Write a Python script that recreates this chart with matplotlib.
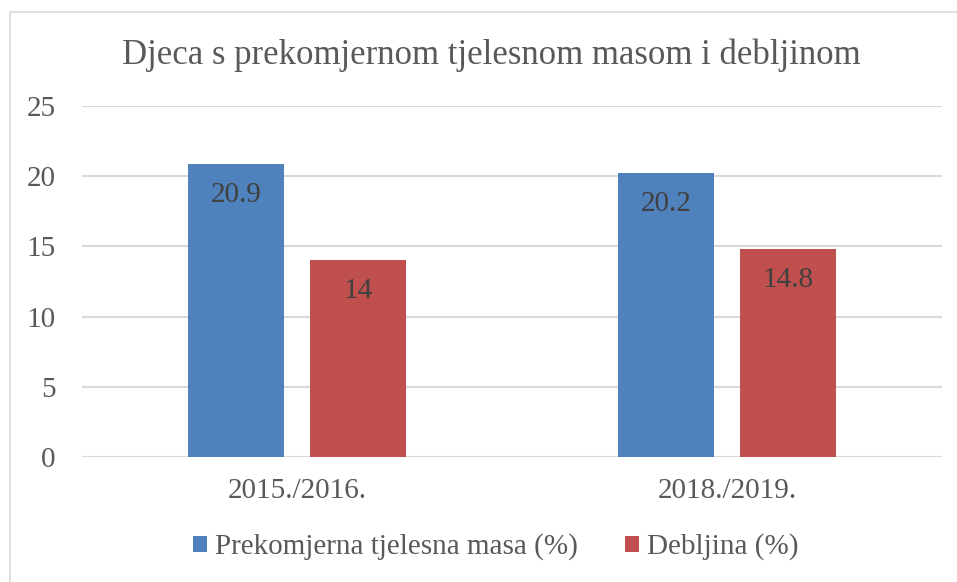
import matplotlib
matplotlib.use("Agg")
import matplotlib.pyplot as plt
import numpy as np
from matplotlib.patches import Rectangle

categories = ["2015./2016.", "2018./2019."]
series_names = ["Prekomjerna tjelesna masa (%)", "Debljina (%)"]
overweight = [20.9, 20.2]
obesity = [14, 14.8]
value_labels_ow = ["20.9", "20.2"]
value_labels_ob = ["14", "14.8"]
yticks = [0, 5, 10, 15, 20, 25]
title = "Djeca s prekomjernom tjelesnom masom i debljinom"

blue = "#4F81BD"
red = "#C0504D"
txt = "#595959"
grid = "#D9D9D9"

plt.rcParams['font.family'] = ['Liberation Serif', 'DejaVu Serif']

W, H = 957, 582
fig = plt.figure(figsize=(W/100, H/100), dpi=100)
fig.patch.set_facecolor("white")

# outer border (left and top visible)
fig.add_artist(Rectangle((10/W, -0.05), 2.0, (H-12)/H + 0.05, transform=fig.transFigure,
                         fill=False, edgecolor="#D9D9D9", linewidth=1.2))

left, right = 82, 942
top, bottom = 106, 457
ax = fig.add_axes([left/W, 1-bottom/H, (right-left)/W, (bottom-top)/H])
ax.set_xlim(-0.5, 1.5)
ax.set_ylim(0, 25)

x = np.arange(len(categories))
bw = 0.2233
off = 0.1419
b1 = ax.bar(x - off, overweight, bw, color=blue, zorder=3, label=series_names[0])
b2 = ax.bar(x + off, obesity, bw, color=red, zorder=3, label=series_names[1])

for bars, labs in ((b1, value_labels_ow), (b2, value_labels_ob)):
    for r, lab in zip(bars, labs):
        ax.annotate(lab, (r.get_x() + r.get_width()/2, r.get_height()),
                    xytext=(0, -31), textcoords="offset pixels",
                    ha="center", va="center", fontsize=21, color="#404040", zorder=4)

ax.set_yticks(yticks)
ax.set_yticklabels([str(v) for v in yticks])
ax.set_xticks(x)
ax.set_xticklabels(categories)
ax.tick_params(axis="both", length=0, labelsize=21, colors=txt)
ax.tick_params(axis="y", pad=19)
ax.tick_params(axis="x", pad=15)
for s in ax.spines.values():
    s.set_visible(False)
ax.yaxis.grid(True, color=grid, linewidth=1.5, zorder=0)
ax.set_axisbelow(True)

fig.text(491/W, 1-55/H, title, ha="center", va="center",
         fontsize=25, color=txt)

leg = fig.legend(handles=[b1, b2], labels=series_names, loc="center",
                 bbox_to_anchor=(496/W, 1-547/H), ncol=2, frameon=False,
                 fontsize=21, handlelength=0.48, handleheight=0.48, handletextpad=0.28,
                 columnspacing=1.6, labelcolor=txt, borderpad=0)

fig.savefig("out.png", dpi=100, facecolor="white")
